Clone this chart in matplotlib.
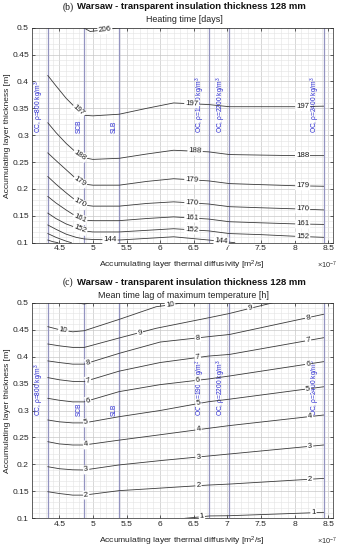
import numpy as np
import matplotlib
matplotlib.use('Agg')
import matplotlib.pyplot as plt
from matplotlib.ticker import MultipleLocator, FuncFormatter

plt.rcParams['font.family'] = ['Liberation Sans', 'DejaVu Sans']
plt.rcParams['mathtext.fontset'] = 'custom'
plt.rcParams['mathtext.rm'] = 'Liberation Sans'
plt.rcParams['mathtext.it'] = 'Liberation Sans:italic'

# material diffusivities [1e-7 m2/s] and names
mat_x = [4.33, 4.87, 5.39, 6.72, 7.03, 8.43]
mat_names = ['CC, ρ=800 kg/m$^3$', 'SCB', 'SLB', 'OC, ρ=1900 kg/m$^3$',
             'OC, ρ=2200 kg/m$^3$', 'OC, ρ=2400 kg/m$^3$']

# (b) heating time [days], contour lines
h206_x = [4.86, 4.96, 5.18, 5.33, 5.38]
h206_y = [0.500, 0.493, 0.496, 0.499, 0.500]
hx = [4.33, 4.45, 4.6, 4.75, 4.87, 5.0, 5.39, 5.8, 6.2, 6.72, 7.03, 7.5, 8.0, 8.43]
h197_y = [0.411, 0.392, 0.369, 0.350, 0.337, 0.336, 0.339, 0.350, 0.360, 0.357, 0.353, 0.353, 0.353, 0.354]
h188_y = [0.323, 0.305, 0.285, 0.268, 0.258, 0.255, 0.257, 0.265, 0.272, 0.269, 0.264, 0.263, 0.262, 0.262]
h179_y = [0.267, 0.253, 0.236, 0.219, 0.209, 0.207, 0.207, 0.214, 0.219, 0.215, 0.210, 0.208, 0.206, 0.205]
h170_y = [0.223, 0.209, 0.193, 0.178, 0.170, 0.168, 0.168, 0.173, 0.176, 0.172, 0.167, 0.165, 0.163, 0.161]
h161_y = [0.186, 0.174, 0.161, 0.149, 0.142, 0.141, 0.141, 0.145, 0.148, 0.144, 0.139, 0.137, 0.135, 0.134]
h152_y = [0.155, 0.145, 0.135, 0.128, 0.122, 0.120, 0.120, 0.123, 0.126, 0.122, 0.117, 0.115, 0.112, 0.110]
h144_x = [4.33, 4.45, 4.6, 4.75, 4.87, 5.0, 5.39, 5.8, 6.2, 6.72, 7.03, 7.11]
h144_y = [0.133, 0.125, 0.116, 0.110, 0.107, 0.106, 0.105, 0.108, 0.111, 0.105, 0.101, 0.100]
h135_x = [4.33, 4.45, 4.6, 4.68]
h135_y = [0.117, 0.110, 0.103, 0.100]
h126_x = [4.33, 4.40, 4.48]
h126_y = [0.105, 0.102, 0.100]

# label x positions per level (b)
h_labels = {206: [5.18], 197: [4.79, 6.47, 8.12], 188: [4.81, 6.52, 8.12],
            179: [4.81, 6.47, 8.12], 170: [4.81, 6.47, 8.12], 161: [4.81, 6.47, 8.12],
            152: [4.81, 6.47, 8.12], 144: [5.255, 6.91]}

# (c) mean time lag of maximum temperature [h]
l11_x = [4.75, 4.87, 4.97]
l11_y = [0.500, 0.4975, 0.500]
l10_x = [4.33, 4.5, 4.7, 4.87, 5.39, 5.94, 6.15, 6.34]
l10_y = [0.4555, 0.450, 0.446, 0.448, 0.469, 0.4925, 0.496, 0.500]
l9_x = [4.33, 4.5, 4.7, 4.87, 5.39, 5.94, 6.72, 7.03, 7.34, 7.68]
l9_y = [0.4234, 0.420, 0.417, 0.417, 0.4345, 0.4525, 0.472, 0.480, 0.4896, 0.500]
lx = [4.33, 4.5, 4.7, 4.87, 5.39, 6.0, 6.72, 7.03, 8.43]
l8_y = [0.392, 0.389, 0.386, 0.386, 0.406, 0.427, 0.437, 0.441, 0.4785]
l7_y = [0.361, 0.357, 0.354, 0.3535, 0.373, 0.389, 0.401, 0.404, 0.435]
l6_y = [0.3226, 0.319, 0.316, 0.316, 0.335, 0.348, 0.3585, 0.364, 0.3906]
l5_y = [0.2824, 0.279, 0.277, 0.277, 0.2885, 0.300, 0.3163, 0.321, 0.344]
l4_y = [0.2421, 0.238, 0.236, 0.236, 0.245, 0.255, 0.267, 0.272, 0.2916]
l3_y = [0.1957, 0.192, 0.190, 0.1896, 0.199, 0.207, 0.2156, 0.2193, 0.236]
l2_y = [0.1493, 0.146, 0.143, 0.143, 0.1513, 0.156, 0.1617, 0.1635, 0.174]
l1_x = [6.37, 6.54, 6.74, 7.03, 8.43]
l1_y = [0.100, 0.102, 0.1044, 0.1048, 0.111]

l_labels = {10: [4.56, 6.15], 9: [5.70, 7.34], 8: [4.93, 6.56, 8.20], 7: [4.93, 6.56, 8.20],
            6: [4.93, 6.56, 8.20], 5: [4.90, 6.57, 8.20], 4: [4.90, 6.57, 8.23],
            3: [4.90, 6.57, 8.23], 2: [4.90, 6.57, 8.23], 1: [6.62, 8.28]}

heat_lines = [(206, h206_x, h206_y), (197, hx, h197_y), (188, hx, h188_y), (179, hx, h179_y),
              (170, hx, h170_y), (161, hx, h161_y), (152, hx, h152_y), (144, h144_x, h144_y),
              (135, h135_x, h135_y), (126, h126_x, h126_y)]
lag_lines = [(11, l11_x, l11_y), (10, l10_x, l10_y), (9, l9_x, l9_y), (8, lx, l8_y), (7, lx, l7_y),
             (6, lx, l6_y), (5, lx, l5_y), (4, lx, l4_y), (3, lx, l3_y), (2, lx, l2_y),
             (1, l1_x, l1_y)]

W, H = 339, 550
fig = plt.figure(figsize=(W / 100, H / 100), dpi=100)

axis_col = '#262626'
line_col = '#3a3a3a'
mat_col = '#9494c0'
txt_blue = '#2a2ad0'


def panel(top_px, bottom_px, lines, labels, mat_y0):
    ax = fig.add_axes([31.7 / W, 1 - bottom_px / H, (333.3 - 31.7) / W, (bottom_px - top_px) / H])
    ax.set_xlim(4.09, 8.575)
    ax.set_ylim(0.1, 0.5)
    ax.xaxis.set_major_locator(MultipleLocator(0.5))
    ax.xaxis.set_minor_locator(MultipleLocator(0.1))
    ax.yaxis.set_major_locator(MultipleLocator(0.05))
    ax.yaxis.set_minor_locator(MultipleLocator(0.01))
    ax.xaxis.set_major_formatter(FuncFormatter(lambda v, p: f'{v:g}'))
    ax.yaxis.set_major_formatter(FuncFormatter(lambda v, p: f'{v:g}'))
    ax.grid(which='major', color='#c8c8c8', lw=0.5)
    ax.grid(which='minor', color='#e3e3e3', lw=0.4)
    ax.set_axisbelow(True)
    ax.tick_params(which='both', direction='in', top=True, right=True, colors=axis_col,
                   labelsize=6.1, pad=2)
    ax.tick_params(which='major', length=2.5, width=0.5)
    ax.tick_params(which='minor', length=0)
    for s in ax.spines.values():
        s.set_color(axis_col)
        s.set_linewidth(0.5)

    for mx, name in zip(mat_x, mat_names):
        ax.axvline(mx, color=mat_col, lw=0.9, zorder=2)
        ax.annotate(name, (mx, mat_y0), xytext=(-1.0, 0), textcoords='offset points',
                    rotation=90, ha='right', va='bottom', fontsize=4.8, color=txt_blue, zorder=3)

    for lev, xs, ys in lines:
        ax.plot(xs, ys, color=line_col, lw=0.6, zorder=4, clip_on=True)
        for lx0 in labels.get(lev, []):
            ly = np.interp(lx0, xs, ys)
            p1 = ax.transData.transform((lx0 - 0.04, np.interp(lx0 - 0.04, xs, ys)))
            p2 = ax.transData.transform((lx0 + 0.04, np.interp(lx0 + 0.04, xs, ys)))
            ang = np.degrees(np.arctan2(p2[1] - p1[1], p2[0] - p1[0]))
            ax.text(lx0, ly, str(lev), fontsize=5.7, color='#1a1a1a', ha='center', va='center',
                    rotation=ang, rotation_mode='anchor', zorder=5,
                    bbox=dict(boxstyle='square,pad=0.12', fc='white', ec='none'))
    return ax


def headings(letter, rest, sub, y_title, y_sub):
    fig.text(73.5 / W, 1 - y_title / H, letter, family='Liberation Serif', fontsize=7.0,
             ha='right', va='center', color='#111111')
    fig.text(77.0 / W, 1 - y_title / H, rest, fontsize=6.8, fontweight='bold',
             ha='left', va='center', color='#111111')
    fig.text(184 / W, 1 - y_sub / H, sub, fontsize=6.4, ha='center', va='center', color='#222222')


ax1 = panel(27.7, 242.7, heat_lines, h_labels, 0.305)
ax2 = panel(302.7, 518.3, lag_lines, l_labels, 0.290)

headings('(b)', 'Warsaw - transparent insulation thickness 128 mm', 'Heating time [days]', 6.7, 20.0)
headings('(c)', 'Warsaw - transparent insulation thickness 128 mm',
         'Mean time lag of maximum temperature [h]', 282.3, 295.7)

for ypx_lab, ymid in [(265.7, 135.2), (541.0, 410.5)]:
    fig.text(182 / W, 1 - ypx_lab / H, 'Accumulating layer thermal diffusivity [m$^2$/s]',
             fontsize=6.1, ha='center', va='center', color='#222222')
    fig.text(327 / W, 1 - ypx_lab / H, r'$\times$10$^{-7}$', fontsize=5.3,
             ha='center', va='center', color='#333333')
    fig.text(8 / W, 1 - ymid / H, 'Accumulating layer thickness [m]', fontsize=6.1,
             rotation=90, ha='center', va='center', color='#222222')

fig.savefig('out.png', dpi=100)
